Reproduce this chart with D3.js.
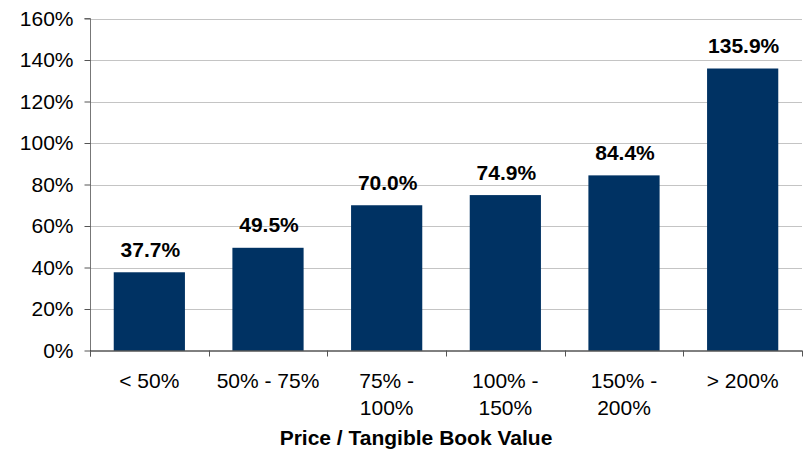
<!DOCTYPE html>
<html>
<head>
<meta charset="utf-8">
<script src="https://cdn.jsdelivr.net/npm/d3@7"></script>
<style>
  html, body { margin: 0; padding: 0; background: #fff; }
  svg { display: block; font-family: "Liberation Sans", Arial, Helvetica, sans-serif; }
</style>
</head>
<body>
<svg id="chart" width="810" height="449"></svg>
<script>
// Price / tangible book value buckets and their values (%)
const categories = [["< 50%"], ["50% - 75%"], ["75% -", "100%"], ["100% -", "150%"], ["150% -", "200%"], ["> 200%"]];
const values = [37.7, 49.5, 70.0, 74.9, 84.4, 135.9];
const yTicks = [0, 20, 40, 60, 80, 100, 120, 140, 160];
const xTitle = "Price / Tangible Book Value";

const svg = d3.select("#chart");
const plotLeft = 90, plotRight = 802, plotTop = 18.5, plotBottom = 350.5;
const fontSize = 21;

const x = d3.scaleBand()
  .domain(d3.range(categories.length))
  .range([plotLeft, plotRight])
  .paddingInner(0.4)
  .paddingOuter(0.2);

const y = d3.scaleLinear().domain([0, 160]).range([plotBottom, plotTop]);

// horizontal gridlines
svg.append("g")
  .selectAll("line")
  .data(yTicks.filter(d => d > 0))
  .join("line")
  .attr("x1", plotLeft).attr("x2", plotRight)
  .attr("y1", d => Math.round(y(d)) + 0.5).attr("y2", d => Math.round(y(d)) + 0.5)
  .attr("stroke", "#c4c4c4").attr("stroke-width", 1);

// bars
svg.append("g")
  .selectAll("rect")
  .data(values)
  .join("rect")
  .attr("x", (d, i) => x(i))
  .attr("width", x.bandwidth())
  .attr("y", d => y(d))
  .attr("height", d => y(0) - y(d))
  .attr("fill", "#003263");

// value labels
svg.append("g")
  .selectAll("text")
  .data(values)
  .join("text")
  .attr("x", (d, i) => x(i) + x.bandwidth() / 2 + 1)
  .attr("y", d => y(d) - 15.5)
  .attr("text-anchor", "middle")
  .attr("font-size", fontSize)
  .attr("font-weight", "bold")
  .attr("fill", "#000")
  .text(d => d.toFixed(1) + "%");

// y axis
const yAxis = svg.append("g")
  .attr("transform", `translate(${plotLeft + 0.5},0)`)
  .call(d3.axisLeft(y).tickValues(yTicks).tickFormat(d => d + "%").tickSize(6).tickPadding(11));
yAxis.select(".domain").attr("stroke", "#777").attr("d", `M-6,${y(160)}H0V${plotBottom + 6}`);
yAxis.selectAll(".tick line").attr("stroke", "#555");
yAxis.selectAll(".tick text").attr("font-size", fontSize).attr("fill", "#000")
  .attr("font-family", "'Liberation Sans', Arial, sans-serif");

// x axis baseline and category boundary ticks
const bounds = d3.range(categories.length + 1).map(i => plotLeft + i * x.step());
svg.append("line")
  .attr("x1", plotLeft).attr("x2", plotRight)
  .attr("y1", plotBottom + 0.5).attr("y2", plotBottom + 0.5)
  .attr("stroke", "#000").attr("stroke-width", 1);
svg.append("g")
  .selectAll("line")
  .data(bounds)
  .join("line")
  .attr("x1", d => Math.round(d) + 0.5).attr("x2", d => Math.round(d) + 0.5)
  .attr("y1", plotBottom).attr("y2", plotBottom + 6)
  .attr("stroke", "#555");

// category labels
const catG = svg.append("g")
  .selectAll("text")
  .data(categories)
  .join("text")
  .attr("x", (d, i) => x(i) + x.bandwidth() / 2)
  .attr("y", 387.5)
  .attr("text-anchor", "middle")
  .attr("font-size", fontSize)
  .attr("fill", "#000");
catG.selectAll("tspan")
  .data(d => d)
  .join("tspan")
  .attr("x", function () { return d3.select(this.parentNode).attr("x"); })
  .attr("dy", (d, i) => i === 0 ? 0 : 27)
  .text(d => d);

// axis title
svg.append("text")
  .attr("x", 416)
  .attr("y", 445)
  .attr("text-anchor", "middle")
  .attr("font-size", fontSize)
  .attr("font-weight", "bold")
  .attr("fill", "#000")
  .text(xTitle);
</script>
</body>
</html>
